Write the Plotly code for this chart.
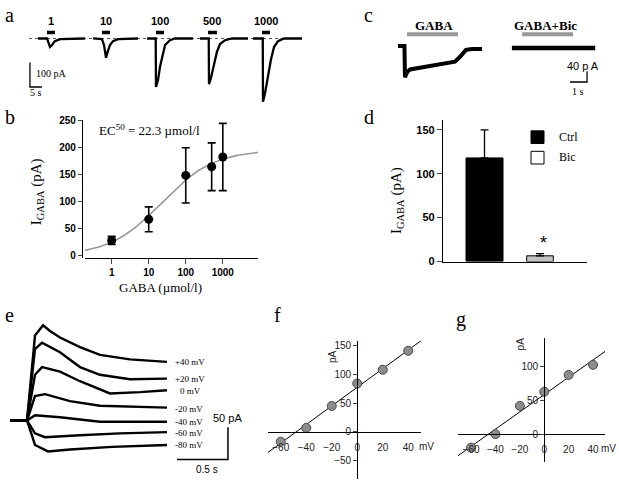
import numpy as np
import plotly.graph_objects as go

W, H = 619, 485
SERIF = "Liberation Serif, Times New Roman, serif"
SANS = "Liberation Sans, Arial, sans-serif"

# ---------------- data ----------------
# panel a: GABA-evoked currents at increasing concentrations (time s, current pA)
a_conc_labels = ["1", "10", "100", "500", "1000"]
a_times = [
    [3.75, 7.5, 8.75, 9.6, 10.8, 12.9, 23.3],
    [26.7, 30.4, 31.25, 32.1, 32.9, 33.75, 35.0, 37.1, 45.4],
    [49.2, 52.8, 52.9, 53.75, 54.6, 55.8, 56.7, 58.75, 60.8, 68.3],
    [71.25, 74.9, 75.0, 75.8, 77.1, 78.3, 79.6, 81.7, 84.6, 91.25],
    [93.3, 97.4, 97.5, 98.3, 99.6, 100.8, 102.1, 103.75, 106.25, 113.75],
]
a_currents = [
    [0, 0, -35, -27, -11, -3, 0],
    [0, -3, -27, -79, -51, -27, -11, -3, 0],
    [0, 0, -199, -171, -115, -59, -27, -7, 0, 0],
    [0, 0, -187, -163, -107, -55, -23, -7, 0, 0],
    [0, 0, -259, -227, -155, -87, -35, -11, 0, 0],
]
a_apply_start = [7.5, 30.4, 52.9, 74.6, 97.1]
a_apply_end = [10.8, 33.75, 56.25, 78.3, 100.4]

# panel b: dose-response
b_conc = [1, 10, 100, 500, 1000]
b_mean = [28, 67, 148, 164, 182]
b_err = [7.5, 23, 51, 44, 62]
EC50 = 22.3
HILL_N = 0.62
I_MAX = 195

# panel c: GABA trace and GABA + bicuculline trace (time s, current pA)
c_gaba_t = [0, 0.38, 0.41, 0.53, 0.71, 1.29, 2.47, 3.35, 3.65, 4.0, 4.35, 4.94]
c_gaba_i = [-3.6, -3.6, -120, -102, -91, -84, -73, -62, -44, -18, -15, -15]
c_bic_t = [6.7, 8.0, 9.5, 11.6]
c_bic_i = [-11, -11, -11, -11]

# panel d: bar chart
d_groups = ["Ctrl", "Bic"]
d_mean = [118, 6.5]
d_err = [32, 2.5]

# panel e: currents at different holding potentials (time s, current pA)
e_labels = ["+40 mV", "+20 mV", "0 mV", "-20 mV", "-40 mV", "-60 mV", "-80 mV"]
e_times = [
    [0, 0.167, 0.245, 0.324, 0.392, 0.49, 0.686, 0.882, 1.176, 1.539],
    [0, 0.167, 0.245, 0.314, 0.49, 0.686, 0.882, 1.176, 1.539],
    [0, 0.167, 0.245, 0.314, 0.49, 0.686, 0.98, 1.275, 1.539],
    [0, 0.167, 0.245, 0.343, 0.588, 0.882, 1.539],
    [0, 0.167, 0.245, 0.49, 0.882, 1.539],
    [0, 0.167, 0.245, 0.343, 0.686, 1.078, 1.539],
    [0, 0.167, 0.245, 0.373, 0.588, 1.0, 1.539],
]
e_currents = [
    [0, 0, 132, 148, 139, 129, 114, 102, 95, 91],
    [0, 0, 111, 121, 106, 83, 71, 64, 65],
    [0, 0, 71, 83, 76, 61, 42, 44, 47],
    [0, 0, 38, 41, 30, 23, 20],
    [0, 0, 8, 5, -2, -2],
    [0, 0, -20, -26, -23, -20, -18],
    [0, 0, -38, -48, -45, -41, -38],
]

# panels f and g: I-V relations
iv_mv = [-60, -40, -20, 0, 20, 40]
f_pa = [-17, 7, 45, 84, 108, 141]
g_pa = [-20, 0, 42, 63, 88, 103]
iv_ticks = [-60, -40, -20, 0, 20, 40]


# ---------------- helpers ----------------
def dom_x(p0, p1):
    return [p0 / W, p1 / W]


def dom_y(top, bot):
    return [1 - bot / H, 1 - top / H]


def px_x(p):
    return p / W


def px_y(p):
    return 1 - p / H


annotations = []


def ann(text, px, py, size, family=SERIF, color="black", xanchor="center",
        yanchor="middle", angle=0, weight="normal"):
    annotations.append(dict(
        text=text, x=px / W, y=1 - py / H, xref="paper", yref="paper",
        showarrow=False, xanchor=xanchor, yanchor=yanchor, textangle=angle,
        font=dict(family=family, size=size, color=color, weight=weight)))


fig = go.Figure()
hidden = dict(visible=False, fixedrange=True)

# ---------------- panel a ----------------
fig.add_trace(go.Scatter(x=[0, 114.2], y=[0, 0], mode="lines", xaxis="x", yaxis="y",
                         line=dict(color="#555", width=1, dash="dot")))
for t, i in zip(a_times, a_currents):
    fig.add_trace(go.Scatter(x=t, y=i, mode="lines", xaxis="x", yaxis="y",
                             line=dict(color="black", width=2.3)))
bx, by = [], []
for s, e in zip(a_apply_start, a_apply_end):
    bx += [s, e, None]
    by += [25, 25, None]
fig.add_trace(go.Scatter(x=bx, y=by, mode="lines", xaxis="x", yaxis="y",
                         line=dict(color="black", width=3.5)))
a_sb = dict(t0=0.4, top=-99, dt=5, di=100)
fig.add_trace(go.Scatter(x=[a_sb["t0"], a_sb["t0"], a_sb["t0"] + a_sb["dt"]],
                         y=[a_sb["top"], a_sb["top"] - a_sb["di"], a_sb["top"] - a_sb["di"]],
                         mode="lines", xaxis="x", yaxis="y", line=dict(color="black", width=1.3)))
for lab, s, e in zip(a_conc_labels, a_apply_start, a_apply_end):
    annotations.append(dict(text=lab, x=(s + e) / 2, y=73, xref="x", yref="y", showarrow=False,
                            font=dict(family=SANS, size=11, color="black", weight="bold")))
ann("100 pA", 34, 69, 10, xanchor="left")
ann("5 s", 36, 89, 10)

# ---------------- panel b ----------------
b_x = np.logspace(-0.72, 3.95, 200)
b_fit = I_MAX * b_x ** HILL_N / (b_x ** HILL_N + EC50 ** HILL_N)
fig.add_trace(go.Scatter(x=b_x, y=b_fit, mode="lines", xaxis="x2", yaxis="y2",
                         line=dict(color="#9a9a9a", width=1.6)))
fig.add_trace(go.Scatter(x=b_conc, y=b_mean, mode="markers", xaxis="x2", yaxis="y2",
                         marker=dict(color="black", size=9),
                         error_y=dict(type="data", array=b_err, color="black",
                                      thickness=1.6, width=4)))
ann("EC<sup>50</sup> = 22.3 µmol/l", 97, 127, 13, xanchor="left")
ann("I<sub>GABA</sub> (pA)", 37, 191, 15, angle=-90)
ann("GABA (µmol/l)", 160, 289, 13)

# ---------------- panel c ----------------
fig.add_trace(go.Scatter(x=c_gaba_t, y=c_gaba_i, mode="lines", xaxis="x3", yaxis="y3",
                         line=dict(color="black", width=4)))
fig.add_trace(go.Scatter(x=c_bic_t, y=c_bic_i, mode="lines", xaxis="x3", yaxis="y3",
                         line=dict(color="black", width=4.5)))
fig.add_trace(go.Scatter(x=[0.53, 3.53, None, 7.3, 10.3], y=[40, 40, None, 40, 40],
                         mode="lines", xaxis="x3", yaxis="y3",
                         line=dict(color="#999999", width=4)))
c_sb = dict(t0=11.12, top=-98, dt=1, di=40)
fig.add_trace(go.Scatter(x=[c_sb["t0"], c_sb["t0"], c_sb["t0"] - c_sb["dt"]],
                         y=[c_sb["top"], c_sb["top"] - c_sb["di"], c_sb["top"] - c_sb["di"]],
                         mode="lines", xaxis="x3", yaxis="y3", line=dict(color="black", width=1.3)))
ann("GABA", 434, 20, 13, weight="bold")
ann("GABA+Bic", 545, 20, 13, weight="bold")
ann("40 p A", 583, 62, 11, family=SANS)
ann("1 s", 578, 88, 10)

# ---------------- panel d ----------------
fig.add_trace(go.Bar(x=[0, 1], y=d_mean, width=[0.667, 0.48], xaxis="x4", yaxis="y4",
                     marker=dict(color=["black", "#c4c4c4"], line=dict(color="black", width=1)),
                     error_y=dict(type="data", symmetric=False, array=d_err, arrayminus=[0, 0],
                                  color="black", thickness=1.3, width=4)))
ann("I<sub>GABA</sub> (pA)", 397, 200, 15, angle=-90)
ann("*", 543, 243, 18, family=SANS)
ann("Ctrl", 557, 134, 12, xanchor="left")
ann("Bic", 557, 155, 12, xanchor="left")
shapes = [
    dict(type="rect", xref="paper", yref="paper", x0=px_x(531), x1=px_x(544),
         y0=px_y(141), y1=px_y(128), fillcolor="black", line=dict(color="black", width=1)),
    dict(type="rect", xref="paper", yref="paper", x0=px_x(531), x1=px_x(544),
         y0=px_y(162), y1=px_y(149), fillcolor="white", line=dict(color="black", width=1)),
]

# ---------------- panel e ----------------
for t, i in zip(e_times, e_currents):
    fig.add_trace(go.Scatter(x=t, y=i, mode="lines", xaxis="x5", yaxis="y5",
                             line=dict(color="black", width=2.4)))
e_sb = dict(t0=2.137, top=-10.6, dt=0.5, di=50)
fig.add_trace(go.Scatter(x=[e_sb["t0"], e_sb["t0"], e_sb["t0"] - e_sb["dt"]],
                         y=[e_sb["top"], e_sb["top"] - e_sb["di"], e_sb["top"] - e_sb["di"]],
                         mode="lines", xaxis="x5", yaxis="y5", line=dict(color="black", width=1.5)))
e_label_py = [365, 382, 395, 413, 427, 438, 450]
for lab, py in zip(e_labels, e_label_py):
    ann(lab, 173 if lab != "0 mV" else 178, py, 9, xanchor="left")
ann("50 pA", 227, 422, 11, family=SANS)
ann("0.5 s", 207, 475, 10, family=SANS)

# ---------------- panels f, g ----------------
def iv_panel(xa, ya, vals, xr):
    slope, icpt = np.polyfit(iv_mv, vals, 1)
    lx = np.array(xr)
    fig.add_trace(go.Scatter(x=lx, y=slope * lx + icpt, mode="lines", xaxis=xa, yaxis=ya,
                             line=dict(color="black", width=1)))
    fig.add_trace(go.Scatter(x=iv_mv, y=vals, mode="markers", xaxis=xa, yaxis=ya,
                             marker=dict(color="#8c8c8c", size=9,
                                         line=dict(color="#4a4a4a", width=1))))


iv_panel("x6", "y6", f_pa, [-70, 50])
iv_panel("x7", "y7", g_pa, [-70.7, 49.8])
ann("mV", 426, 452, 10, family=SANS, color="#222")
ann("pA", 332, 360, 10, family=SANS, color="#222", angle=-90)
ann("mV", 608, 454, 10, family=SANS, color="#222")
ann("pA", 520, 347, 10, family=SANS, color="#222", angle=-90)

# panel letters
for letter, px, py in [("a", 9, 9), ("b", 10, 114), ("c", 368, 9), ("d", 369, 114),
                       ("e", 9, 317), ("f", 277, 317), ("g", 461, 321)]:
    ann(letter, px, py, 20)

# ---------------- axes ----------------
line_ax = dict(showline=True, linecolor="black", linewidth=1.3, showgrid=False,
               zeroline=False, fixedrange=True)
ivfont = dict(family=SANS, size=10, color="#222")

fig.update_layout(
    width=W, height=H, margin=dict(l=0, r=0, t=0, b=0),
    paper_bgcolor="white", plot_bgcolor="rgba(0,0,0,0)", showlegend=False,
    annotations=annotations, shapes=shapes,
    xaxis=dict(domain=dom_x(29, 303), range=[0, 114.17], anchor="y", **hidden),
    yaxis=dict(domain=dom_y(5, 100), range=[-266.8, 113.2], anchor="x", **hidden),
    xaxis2=dict(domain=dom_x(85, 258), type="log", range=[-0.72, 3.95], anchor="free",
                position=px_y(258), ticks="outside", ticklen=5, tickwidth=1.3,
                tickvals=[1, 10, 100, 1000], ticktext=["1", "10", "100", "1000"],
                tickfont=dict(family=SANS, size=10, color="black", weight="bold"), **line_ax),
    yaxis2=dict(domain=dom_y(117, 258), range=[-3.6, 250], anchor="free", position=px_x(82),
                ticks="outside", ticklen=4, tickwidth=1.3, tickvals=[0, 50, 100, 150, 200, 250],
                tickfont=dict(family=SANS, size=10, color="black", weight="bold"), **line_ax),
    xaxis3=dict(domain=dom_x(398, 602), range=[0, 12.0], anchor="y3", **hidden),
    yaxis3=dict(domain=dom_y(10, 95), range=[-200, 109.1], anchor="x3", **hidden),
    xaxis4=dict(domain=dom_x(442, 587), range=[-0.766, 1.847], anchor="free",
                position=px_y(262), showticklabels=False, ticks="", **line_ax),
    yaxis4=dict(domain=dom_y(117, 262), range=[0, 161.1], anchor="free", position=px_x(442),
                ticks="outside", ticklen=5, tickwidth=1.3, tickvals=[0, 50, 100, 150],
                tickfont=dict(family=SANS, size=11, color="black", weight="bold"), **line_ax),
    xaxis5=dict(domain=dom_x(10, 245), range=[0, 2.304], anchor="y5", **hidden),
    yaxis5=dict(domain=dom_y(320, 480), range=[-83.3, 159.1], anchor="x5", **hidden),
    xaxis6=dict(domain=dom_x(268, 421), range=[-70, 50], anchor="free", position=px_y(436.7),
                ticks="outside", ticklen=6, tickcolor="rgba(0,0,0,0)", tickvals=iv_ticks,
                tickfont=ivfont, **line_ax),
    yaxis6=dict(domain=dom_y(343, 485), range=[-81.9, 158.8], anchor="free",
                position=px_x(357.3), ticks="outside", ticklen=4,
                tickvals=[-50, 0, 50, 100, 150], tickfont=ivfont, **line_ax),
    xaxis7=dict(domain=dom_x(458, 605), range=[-70.7, 49.8], anchor="free", position=px_y(439),
                ticks="outside", ticklen=6, tickcolor="rgba(0,0,0,0)", tickvals=iv_ticks,
                tickfont=ivfont, **line_ax),
    yaxis7=dict(domain=dom_y(340, 468), range=[-42, 143.5], anchor="free",
                position=px_x(544.3), ticks="outside", ticklen=4,
                tickvals=[0, 50, 100], tickfont=ivfont, **line_ax),
)
fig.update_xaxes(linewidth=1)
fig.write_html("out.html", config={"displayModeBar": False},
               post_script="document.body.style.margin='0px';document.body.style.overflow='hidden';")
